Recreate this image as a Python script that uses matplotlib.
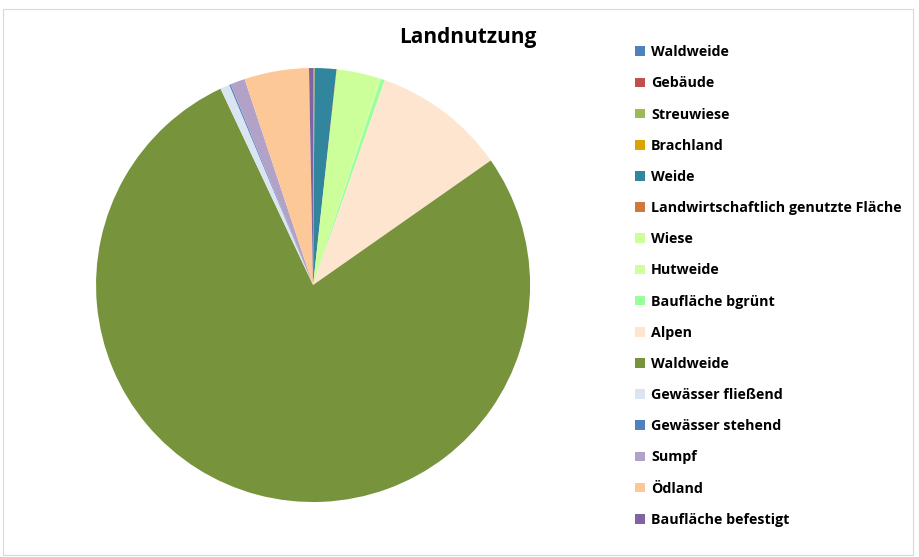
import matplotlib.pyplot as plt
from matplotlib.patches import Rectangle

plt.rcParams['font.family'] = ['Open Sans', 'DejaVu Sans']

# Landnutzung, Anteile in Prozent (aus dem Bild geschaetzt)
labels = ['Waldweide', 'Gebäude', 'Streuwiese', 'Brachland', 'Weide',
          'Landwirtschaftlich genutzte Fläche', 'Wiese', 'Hutweide',
          'Baufläche bgrünt', 'Alpen', 'Waldweide', 'Gewässer fließend',
          'Gewässer stehend', 'Sumpf', 'Ödland', 'Baufläche befestigt']
values = [0.03, 0.03, 0.03, 0.03, 1.6,
          0.03, 3.2, 0.1,
          0.3, 9.9, 77.6, 0.7,
          0.1, 1.1, 4.8, 0.3]
colors = ['#4f81bd', '#c0504d', '#9bbb59', '#dba400', '#31859c',
          '#d0783a', '#ccff99', '#d2ff9e',
          '#99ff99', '#fde5cf', '#77933c', '#dbe5f1',
          '#4f81bd', '#b3a2c7', '#fcc897', '#8064a2']

fig = plt.figure(figsize=(9.19, 5.57), dpi=100)

# pie area: centre (313, 285) px, radius 217 px
ax = fig.add_axes([0.1045, 0.0987, 0.4723, 0.7792])
wedges, _ = ax.pie(values, colors=colors, startangle=90, counterclock=False,
                   wedgeprops=dict(linewidth=0))
ax.set_xlim(-1, 1)
ax.set_ylim(-1, 1)
ax.set_aspect('equal')
ax.axis('off')

fig.text(0.509, 0.932, 'Landnutzung', ha='center', va='center',
         fontsize=15, fontweight='bold')

fig.legend(wedges, labels, loc='upper left', bbox_to_anchor=(0.685, 0.929),
           frameon=False, prop={'weight': 'bold', 'size': 10.3},
           handlelength=0.65, handleheight=0.65, handletextpad=0.45,
           labelspacing=1.2, borderaxespad=0)

# light frame round the chart
fig.patches.append(Rectangle((0.003, 0.003), 0.99, 0.98, transform=fig.transFigure,
                             fill=False, edgecolor='#d9d9d9', linewidth=0.8))

fig.savefig('out.png', dpi=100)
